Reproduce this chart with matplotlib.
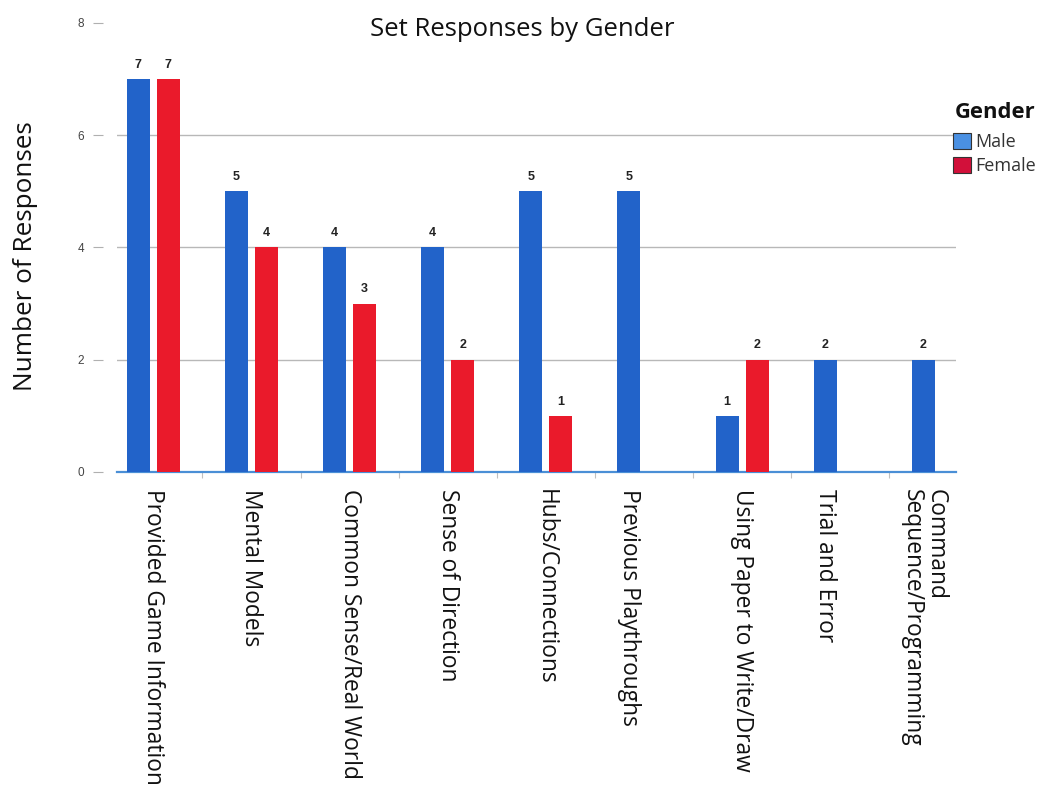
import matplotlib
matplotlib.use("Agg")
import matplotlib.pyplot as plt
import numpy as np
from matplotlib.patches import Patch

categories = [
    "Provided Game Information",
    "Mental Models",
    "Common Sense/Real World",
    "Sense of Direction",
    "Hubs/Connections",
    "Previous Playthroughs",
    "Using Paper to Write/Draw",
    "Trial and Error",
    "Command\nSequence/Programming",
]
male = [7, 5, 4, 4, 5, 5, 1, 2, 2]
female = [7, 4, 3, 2, 1, 0, 2, 0, 0]
y_ticks = [0, 2, 4, 6, 8]

bar_blue = "#2263c9"
bar_red = "#ea1a2b"
legend_blue = "#4a90e2"
legend_red = "#d2103a"

fig = plt.figure(figsize=(10.42, 7.93), dpi=100)
ax = fig.add_axes([0.1123, 0.4048, 0.8052, 0.5662])

x = np.arange(len(categories))
w = 0.235
off = 0.153
bm = ax.bar(x - off, male, width=w, color=bar_blue, zorder=3)
bf = ax.bar(x + off, female, width=w, color=bar_red, zorder=3)

for rects, vals in ((bm, male), (bf, female)):
    for r, v in zip(rects, vals):
        if v > 0:
            ax.annotate(str(v), (r.get_x() + r.get_width() / 2, v),
                        xytext=(0, 6), textcoords="offset points",
                        ha="center", va="bottom", fontsize=9,
                        fontweight="bold", family="Liberation Sans",
                        color="#222222")

# category labels sit under the bars that are actually drawn in each group
label_pos = []
for i in range(len(categories)):
    present = [xi for xi, v in ((x[i] - off, male[i]), (x[i] + off, female[i])) if v > 0]
    label_pos.append(np.mean(present))

ax.set_xlim(-0.37, 8.18)
ax.set_ylim(0, 8)

# horizontal reference lines
for yv in y_ticks[1:-1]:
    ax.axhline(yv, color="#b8b8b8", lw=1.0, zorder=1)

for s in ("top", "right", "left"):
    ax.spines[s].set_visible(False)
ax.spines["bottom"].set_color("#4a8fd6")
ax.spines["bottom"].set_linewidth(1.6)
ax.spines["left"].set_position(("outward", 10))

ax.set_yticks(y_ticks)
ax.set_yticklabels([str(t) for t in y_ticks], fontsize=8.5,
                   family="Liberation Sans", color="#444444")
ax.tick_params(axis="y", length=7.5, width=0.8, color="#b0b0b0", pad=6)

ax.set_xticks(label_pos)
ax.set_xticklabels(categories, rotation=270, ha="center", va="top",
                   fontsize=16.4, family="Open Sans", color="#111111",
                   multialignment="left", linespacing=1.0)
ax.tick_params(axis="x", length=0, pad=12)
ax.set_xticks(x[:-1] + 0.5, minor=True)
ax.tick_params(axis="x", which="minor", length=4, width=0.8, color="#c0c0c0")

fig.text(0.501, 0.963, "Set Responses by Gender", ha="center", va="center",
         fontsize=18.5, family="Open Sans", color="#111111")
fig.text(0.024, 0.677, "Number of Responses", rotation=90, ha="center",
         va="center", fontsize=18.8, family="Open Sans", color="#111111")

fig.text(0.9165, 1 - 118 / 793, "Gender", ha="left", va="baseline",
         fontsize=15.8, fontweight="bold", family="Open Sans", color="#111111")
handles = [Patch(facecolor=legend_blue, edgecolor="#333333", lw=0.8),
           Patch(facecolor=legend_red, edgecolor="#333333", lw=0.8)]
leg = fig.legend(handles, ["Male", "Female"],
                 loc="upper left", bbox_to_anchor=(0.9146, 1 - 133 / 793),
                 frameon=False, prop={"family": "Open Sans", "size": 13},
                 handlelength=1.0, handleheight=1.0, handletextpad=0.22,
                 labelspacing=0.3, borderaxespad=0, borderpad=0)
for t in leg.get_texts():
    t.set_color("#333333")

fig.savefig("out.png", dpi=100, facecolor="white")
